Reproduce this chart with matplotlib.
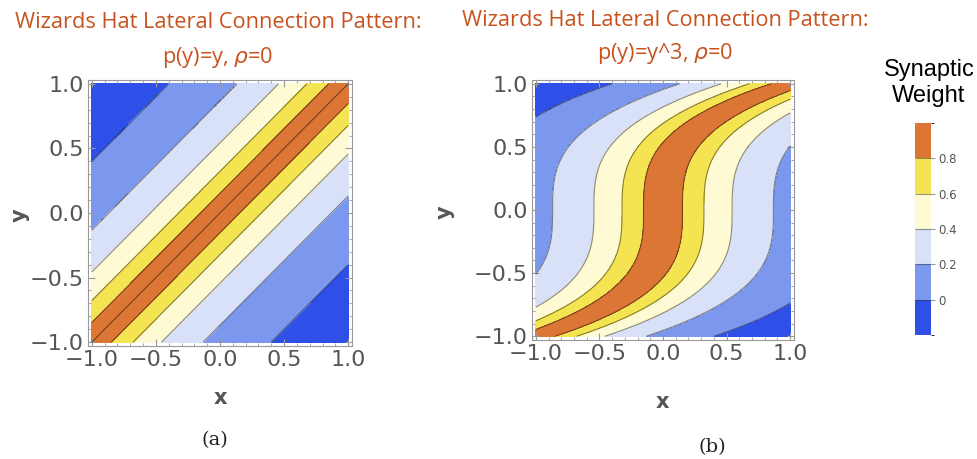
import numpy as np
import matplotlib.pyplot as plt
from matplotlib.colors import ListedColormap, BoundaryNorm
from matplotlib.ticker import MultipleLocator

# wizard-hat profile: synaptic weight vs lateral distance |x - p(y)|
dist_profile = [0.0, 0.153, 0.322, 0.543, 0.868, 1.40, 2.0]
weight_profile = [1.0, 0.8, 0.6, 0.4, 0.2, 0.0, -0.1]

levels = [-0.2, 0.0, 0.2, 0.4, 0.6, 0.8, 1.0]
band_colors = ['#2E4FE8', '#7B97EE', '#D9E1F8', '#FEFAD4', '#F5E452', '#DB7635']
cbar_ticks = [0, 0.2, 0.4, 0.6, 0.8]

panels = [
    {'p': lambda y: y, 'title2': 'p(y)=y, $\\rho$=0', 'cap': '(a)', 'ridge': True},
    {'p': lambda y: y ** 3, 'title2': 'p(y)=y^3, $\\rho$=0', 'cap': '(b)', 'ridge': False},
]

plt.rcParams['mathtext.fontset'] = 'dejavusans'
title_col = '#C8521E'
grey = '#555555'

fig = plt.figure(figsize=(9.77, 4.59), dpi=100)
cmap = ListedColormap(band_colors)
norm = BoundaryNorm(levels, cmap.N)

grid = np.linspace(-1, 1, 501)
X, Y = np.meshgrid(grid, grid)

axes_rects = [[88 / 977, 1 - 346 / 459, 264 / 977, 266 / 459],
              [532 / 977, 1 - 340 / 459, 262 / 977, 260 / 459]]
title_pos = [(218, 22, 57), (665, 20, 53)]
xlab_pos = [(220, 398), (662, 402)]
ylab_pos = [(20, 215), (445, 212)]
cap_pos = [(215, 440), (712, 447)]

for i, pan in enumerate(panels):
    ax = fig.add_axes(axes_rects[i])
    Z = np.interp(np.abs(X - pan['p'](Y)), dist_profile, weight_profile)
    ax.contourf(X, Y, Z, levels=levels, cmap=cmap, norm=norm)
    ax.contour(X, Y, Z, levels=levels[1:-1], colors='black', alpha=0.45, linewidths=0.8)
    if pan['ridge']:
        ax.plot(pan['p'](grid), grid, color='black', alpha=0.45, lw=0.8)
    ax.set_xlim(-1.03, 1.03)
    ax.set_ylim(-1.03, 1.03)
    ax.set_xticks([-1, -0.5, 0, 0.5, 1])
    ax.set_yticks([-1, -0.5, 0, 0.5, 1])
    ax.xaxis.set_minor_locator(MultipleLocator(0.1))
    ax.yaxis.set_minor_locator(MultipleLocator(0.1))
    ax.xaxis.set_major_formatter(lambda v, pos: f'{v:.1f}'.replace('-', '\u2212'))
    ax.yaxis.set_major_formatter(lambda v, pos: f'{v:.1f}'.replace('-', '\u2212'))
    ax.tick_params(which='both', direction='in', top=True, right=True, colors='#999999',
                   labelcolor=grey, labelsize=16, pad=3)
    ax.tick_params(which='major', length=5)
    ax.tick_params(which='minor', length=2.5)
    for s in ax.spines.values():
        s.set_color('#999999')
        s.set_linewidth(0.8)

    tx, ty1, ty2 = title_pos[i]
    fig.text(tx / 977, 1 - ty1 / 459, 'Wizards Hat Lateral Connection Pattern:', color=title_col,
             fontsize=15.7, family='Open Sans', ha='center', va='center')
    fig.text(tx / 977, 1 - ty2 / 459, pan['title2'], color=title_col,
             fontsize=15.7, family='Open Sans', ha='center', va='center')
    fig.text(xlab_pos[i][0] / 977, 1 - xlab_pos[i][1] / 459, 'x', color=grey, fontsize=15,
             fontweight='bold', ha='center', va='center')
    fig.text(ylab_pos[i][0] / 977, 1 - ylab_pos[i][1] / 459, 'y', color=grey, fontsize=15,
             fontweight='bold', ha='center', va='center', rotation=90)
    fig.text(cap_pos[i][0] / 977, 1 - cap_pos[i][1] / 459, pan['cap'], color='#222222',
             fontsize=14, family='DejaVu Serif', ha='center', va='center')

# colorbar
cax = fig.add_axes([915 / 977, 1 - 335 / 459, 16 / 977, 212 / 459])
sm = plt.cm.ScalarMappable(cmap=cmap, norm=norm)
cb = fig.colorbar(sm, cax=cax, boundaries=levels, ticks=cbar_ticks, drawedges=True)
cb.ax.set_yticklabels(['0', '0.2', '0.4', '0.6', '0.8'])
cb.outline.set_visible(False)
cb.dividers.set_color('#333333')
cb.dividers.set_alpha(0.5)
cb.dividers.set_linewidth(0.8)
cb.ax.tick_params(length=3, color='#999999', labelcolor=grey, labelsize=8.5, pad=2)
fig.text(929 / 977, 1 - 83 / 459, 'Synaptic\nWeight', fontsize=17, family='Liberation Sans',
         ha='center', va='center', linespacing=1.2)

fig.savefig('out.png', dpi=100)
